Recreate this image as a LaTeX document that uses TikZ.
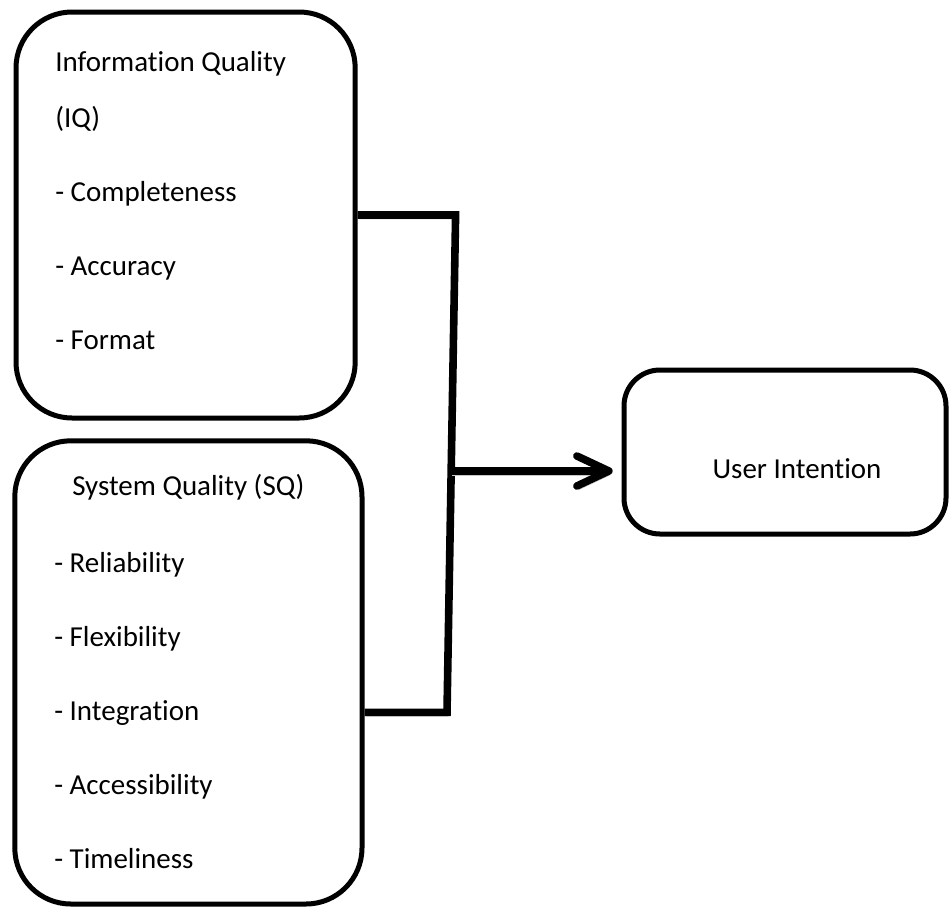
\documentclass[tikz,border=0pt]{standalone}
\usepackage{fontspec}
\setmainfont{Carlito}[Ligatures=NoCommon]
\usetikzlibrary{arrows.meta}

\begin{document}
\begin{tikzpicture}[x=1cm,y=1cm,
  box/.style={draw, line width=1.25mm, rounded corners=1.4cm},
  txt/.style={align=left, anchor=base west, inner sep=0pt, font=\fontsize{20.6}{52.6}\selectfont},
  link/.style={line width=1.9mm, preaction={draw=black!22, transform canvas={shift={(0.3mm,-1mm)}}}}]
\useasboundingbox (0,0) rectangle (23.75,-22.65);
% the three boxes
\node[box, minimum width=8.48cm, minimum height=10.15cm] (iq) at (4.64,-5.375) {};
\node[box, minimum width=8.68cm, minimum height=11.58cm] (sq) at (4.71,-16.81) {};
\node[box, rounded corners=0.9cm, minimum width=8.05cm, minimum height=4.1cm] (ui) at (19.625,-11.3) {};
% their texts (placed by the base line of the last line)
\node[txt] (iqtext) at (1.375,-8.725) {Information Quality\\[-0.45cm](IQ)\\- Completeness\\- Accuracy\\- Format};
\node[txt] (sqtext) at (1.35,-21.7) {\hspace*{0.45cm}System Quality (SQ)\\[0.075cm]- Reliability\\- Flexibility\\- Integration\\- Accessibility\\- Timeliness};
\node[txt, anchor=base] (uitext) at (19.925,-11.95) {User Intention};
% connectors
\coordinate (jtop) at (11.39,-5.375);
\coordinate (jbot) at (11.175,-17.81);
\coordinate (jmid) at (11.28,-11.775);
\draw[link] (iq.east) -- (jtop) -- (jbot) -- (sq.east |- jbot);
\draw[link, -{Straight Barb[length=0.8cm,width=0.75cm,round]}, shorten >=0.22cm] (jmid) -- (ui.west |- jmid);
\end{tikzpicture}
\end{document}
